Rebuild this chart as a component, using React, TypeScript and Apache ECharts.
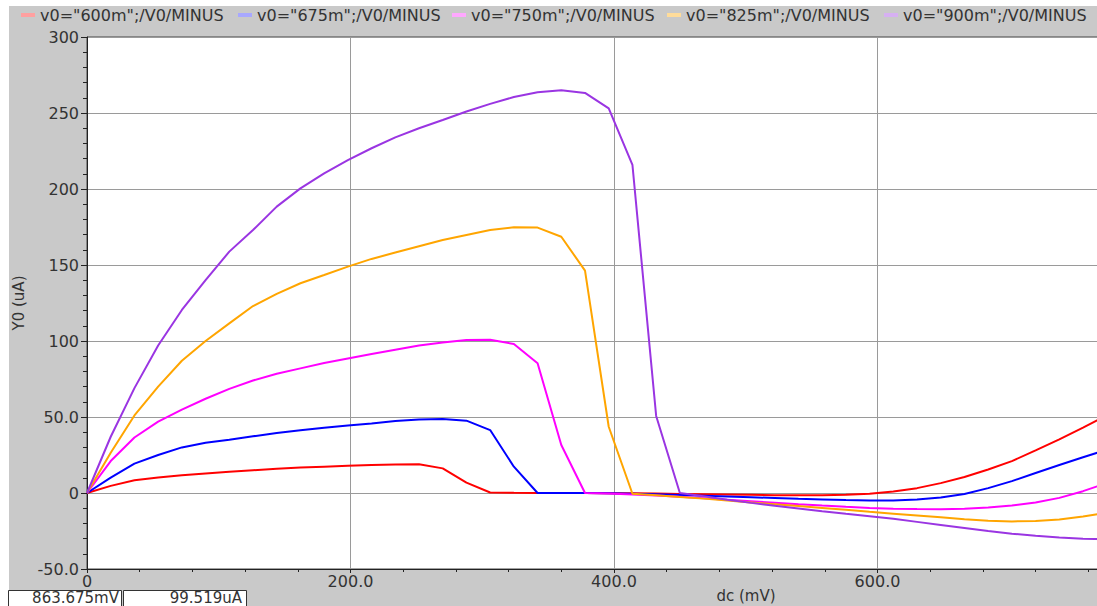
import React, { useEffect, useRef } from "react";
import * as echarts from "echarts";

// sweep values (mV)
const dcMv = [
  0, 18, 36, 54, 72, 90, 108, 126, 144, 162, 180, 198, 216, 234, 252, 270, 288, 306, 324, 342, 360, 378,
  396, 414, 432, 450, 468, 486, 504, 522, 540, 558, 576, 594, 612, 630, 648, 666, 684, 702, 720, 738, 756, 774,
];

const seriesNames = [
  'v0="600m";/V0/MINUS',
  'v0="675m";/V0/MINUS',
  'v0="750m";/V0/MINUS',
  'v0="825m";/V0/MINUS',
  'v0="900m";/V0/MINUS',
];

const y600 = [
  0, 4.7, 8.4, 10.2, 11.7, 12.9, 14, 15, 15.9, 16.7, 17.3, 17.9, 18.4, 18.8, 18.9, 16.2, 6.8, 0.3, 0.1, 0, 0, 0,
  -0.1, -0.2, -0.4, -0.6, -0.8, -1.0, -1.2, -1.4, -1.5, -1.5, -1.2, -0.5, 1.0, 3.2, 6.5, 10.5, 15.5, 21, 28, 35.3, 43, 51,
];
const y675 = [
  0, 10.1, 19.3, 25, 30, 33, 35, 37.3, 39.5, 41.3, 42.9, 44.4, 45.7, 47.3, 48.3, 48.7, 47.6, 41.4, 17.3, 0, 0, 0,
  -0.2, -0.5, -0.9, -1.3, -1.8, -2.3, -2.8, -3.3, -3.8, -4.2, -4.6, -4.9, -4.9, -4.3, -3, -0.6, 3.2, 7.8, 13.2, 18.4, 23.5, 28.5,
];
const y750 = [
  0, 21, 36.5, 47, 54.8, 62, 68.5, 74, 78.5, 82, 85.5, 88.5, 91.4, 94.3, 97, 99, 100.7, 100.8, 98, 85.3, 31.6, 0,
  -0.4, -1, -1.7, -2.5, -3.4, -4.4, -5.4, -6.4, -7.4, -8.3, -9.1, -9.8, -10.3, -10.6, -10.7, -10.4, -9.6, -8.3, -6.3, -3.2, 1.2, 6.5,
];
const y825 = [
  0, 26.5, 51, 70, 87, 100, 111.6, 123, 131, 138, 143.4, 148.9, 154, 158.2, 162.3, 166.4, 169.8, 173, 174.8, 174.6, 168.6, 146.3,
  43.6, -0.5, -1.5, -2.6, -3.7, -5, -6.2, -7.4, -8.6, -9.8, -11, -12.4, -13.6, -14.8, -16, -17.2, -18.2, -18.7, -18.5, -17.5, -15.5, -13,
];
const y900 = [
  0, 37, 69, 97, 120.4, 140, 158.8, 173, 188.4, 200.4, 210.3, 219, 226.8, 234, 240, 245.4, 251, 256, 260.5, 263.6, 264.9, 263.2,
  253.1, 215.8, 50.7, 0, -2.2, -4.4, -6.5, -8.4, -10.2, -12, -13.7, -15.3, -17, -19, -21, -23, -25, -26.8, -28.2, -29.3, -30.1, -30.5,
];
const seriesValues = [y600, y675, y750, y825, y900];

const lineColors = ["#ff0000", "#0000ff", "#ff00ff", "#ffa500", "#9a35e2"];
const legendSwatchColors = ["#ffa0a0", "#a8a8ff", "#ffa8ff", "#ffdc9a", "#d6b0f2"];

const yTickValues = [-50, 0, 50, 100, 150, 200, 250, 300];
const yTickLabels = ["-50.0", "0", "50.0", "100", "150", "200", "250", "300"];
const xTickValues = [0, 200, 400, 600];
const xTickLabels = ["0", "200.0", "400.0", "600.0"];

const xAxisTitle = "dc (mV)";
const yAxisTitle = "Y0 (uA)";
const cursorXText = "863.675mV";
const cursorYText = "99.519uA";

const FONT = "DejaVu Sans";
const TEXT_COLOR = "#333333";

export default function App() {
  const ref = useRef<HTMLDivElement>(null);

  useEffect(() => {
    if (!ref.current) return;
    const chart = echarts.init(ref.current, undefined, { renderer: "svg" });

    const legendLefts = [21, 238, 452, 667, 884];

    const option: any = {
      animation: false,
      backgroundColor: "#c9c9c9",
      legend: seriesNames.map((n, i) => ({
        data: [{ name: n, itemStyle: { color: legendSwatchColors[i] } }],
        left: legendLefts[i],
        top: 7,
        icon: "rect",
        itemWidth: 14,
        itemHeight: 4,
        selectedMode: false,
        padding: 0,
        textStyle: { fontSize: 16, fontFamily: FONT, color: TEXT_COLOR },
      })),
      grid: {
        left: 87,
        top: 37,
        width: 1056,
        height: 532,
        show: true,
        backgroundColor: "#ffffff",
        borderColor: "#444444",
        borderWidth: 1,
      },
      xAxis: {
        type: "value",
        min: 0,
        max: 800,
        interval: 200,
        axisLine: { show: true, onZero: false, lineStyle: { color: "#222222", width: 1 } },
        axisTick: { show: true, length: 4, lineStyle: { color: "#222222" } },
        minorTick: { show: true, splitNumber: 5, length: 3, lineStyle: { color: "#222222" } },
        splitLine: { show: true, lineStyle: { color: "#9a9a9a", width: 1 } },
        axisLabel: {
          margin: 4,
          fontSize: 16,
          fontFamily: FONT,
          color: TEXT_COLOR,
          formatter: (v: number) => {
            const i = xTickValues.indexOf(v);
            return i >= 0 ? xTickLabels[i] : "";
          },
        },
      },
      yAxis: {
        type: "value",
        min: -50,
        max: 300,
        interval: 50,
        name: yAxisTitle,
        nameLocation: "middle",
        nameGap: 61,
        nameTextStyle: { fontSize: 15, fontFamily: FONT, color: TEXT_COLOR },
        axisLine: { show: true, onZero: false, lineStyle: { color: "#222222", width: 1 } },
        axisTick: { show: true, length: 6, lineStyle: { color: "#222222" } },
        minorTick: { show: true, splitNumber: 5, length: 4, lineStyle: { color: "#222222" } },
        splitLine: { show: true, lineStyle: { color: "#9a9a9a", width: 1 } },
        axisLabel: {
          margin: 8,
          fontSize: 16,
          fontFamily: FONT,
          color: TEXT_COLOR,
          formatter: (v: number) => {
            const i = yTickValues.indexOf(v);
            return i >= 0 ? yTickLabels[i] : "";
          },
        },
      },
      series: seriesNames.map((n, i) => ({
        name: n,
        type: "line",
        data: dcMv.map((x, k) => [x, seriesValues[i][k]]),
        showSymbol: false,
        symbol: "none",
        clip: true,
        lineStyle: { color: lineColors[i], width: 2 },
        itemStyle: { color: lineColors[i] },
        emphasis: { disabled: true },
      })),
      graphic: [
        { type: "rect", shape: { x: 0, y: 0, width: 9, height: 606 }, style: { fill: "#ffffff" }, silent: true },
        { type: "rect", shape: { x: 0, y: 0, width: 1144, height: 6 }, style: { fill: "#ffffff" }, silent: true },
        {
          type: "rect",
          shape: { x: 8.5, y: 590.5, width: 113, height: 20 },
          style: { fill: "#ffffff", stroke: "#333333", lineWidth: 1 },
          silent: true,
        },
        {
          type: "rect",
          shape: { x: 123.5, y: 590.5, width: 123, height: 20 },
          style: { fill: "#ffffff", stroke: "#333333", lineWidth: 1 },
          silent: true,
        },
        {
          type: "text",
          x: 119,
          y: 598,
          style: {
            text: cursorXText,
            align: "right",
            verticalAlign: "middle",
            fontSize: 15,
            fontFamily: FONT,
            fill: TEXT_COLOR,
          },
          silent: true,
        },
        {
          type: "text",
          x: 242,
          y: 598,
          style: {
            text: cursorYText,
            align: "right",
            verticalAlign: "middle",
            fontSize: 15,
            fontFamily: FONT,
            fill: TEXT_COLOR,
          },
          silent: true,
        },
        {
          type: "text",
          x: 746,
          y: 596,
          style: {
            text: xAxisTitle,
            align: "center",
            verticalAlign: "middle",
            fontSize: 15,
            fontFamily: FONT,
            fill: TEXT_COLOR,
          },
          silent: true,
        },
      ],
    };

    chart.setOption(option);
    return () => chart.dispose();
  }, []);

  return (
    <div
      ref={ref}
      style={{ position: "fixed", left: 0, top: 0, width: 1144, height: 606 }}
    />
  );
}
